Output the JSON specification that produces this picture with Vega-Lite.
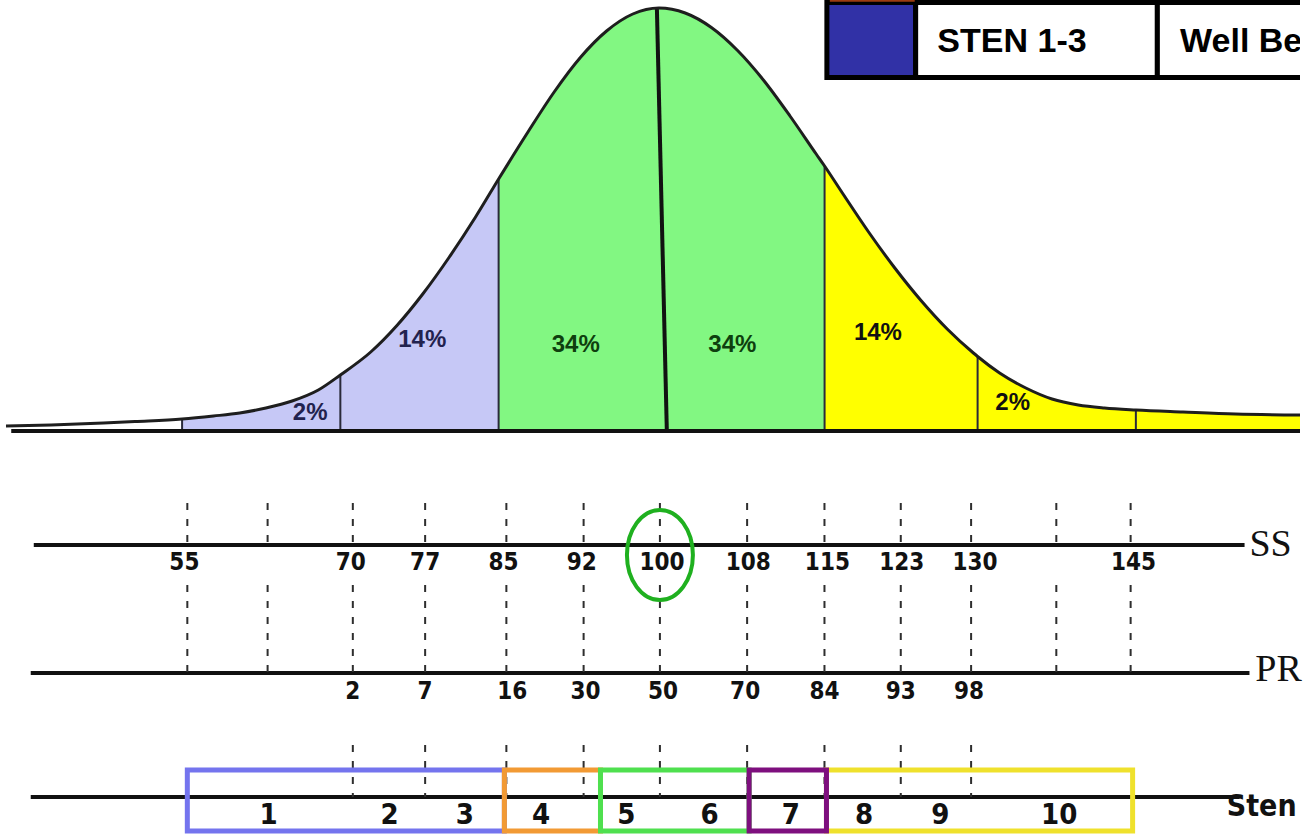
{
  "$schema": "https://vega.github.io/schema/vega-lite/v6.json",
  "width": 1306,
  "height": 836,
  "padding": 0,
  "autosize": {"type": "fit", "contains": "padding"},
  "background": "white",
  "config": {"view": {"stroke": null}},
  "datasets": {
    "curve": [
      {"x": 37.7, "h": 5}, {"x": 42, "h": 6}, {"x": 47, "h": 8}, {"x": 50, "h": 9.5},
      {"x": 54.5, "h": 12}, {"x": 57.5, "h": 15}, {"x": 60, "h": 18}, {"x": 62.5, "h": 23},
      {"x": 65, "h": 30}, {"x": 67.5, "h": 41}, {"x": 69.6, "h": 56}, {"x": 72.5, "h": 79},
      {"x": 75, "h": 105.5}, {"x": 77.5, "h": 137.5}, {"x": 80, "h": 174}, {"x": 82.5, "h": 214},
      {"x": 84.7, "h": 252}, {"x": 87.5, "h": 299}, {"x": 90, "h": 339}, {"x": 92.5, "h": 373.5},
      {"x": 95, "h": 400}, {"x": 97.5, "h": 417}, {"x": 100, "h": 423}, {"x": 102.5, "h": 418},
      {"x": 105, "h": 403.5}, {"x": 107.5, "h": 380.5}, {"x": 110, "h": 350.5}, {"x": 112.5, "h": 315},
      {"x": 115, "h": 277}, {"x": 115.8, "h": 265}, {"x": 117.5, "h": 238}, {"x": 120, "h": 199},
      {"x": 122.5, "h": 163}, {"x": 125, "h": 130.5}, {"x": 127.5, "h": 102}, {"x": 130, "h": 78},
      {"x": 130.4, "h": 74.5}, {"x": 132.5, "h": 58}, {"x": 135, "h": 43}, {"x": 137.5, "h": 32},
      {"x": 140, "h": 26}, {"x": 142.5, "h": 23}, {"x": 145.5, "h": 21}, {"x": 150, "h": 19},
      {"x": 155, "h": 17}, {"x": 161.16, "h": 16}
    ],
    "bounds": [
      {"x": 54.5, "h": 12}, {"x": 69.6, "h": 56}, {"x": 84.7, "h": 252},
      {"x": 115.8, "h": 265}, {"x": 130.4, "h": 74.5}, {"x": 145.5, "h": 21}
    ],
    "curvelabels": [
      {"x": 66.72, "y": 18, "label": "2%", "zone": "lav"},
      {"x": 77.41, "y": 91, "label": "14%", "zone": "lav"},
      {"x": 92.06, "y": 86, "label": "34%", "zone": "green"},
      {"x": 107.0, "y": 86, "label": "34%", "zone": "green"},
      {"x": 120.89, "y": 98, "label": "14%", "zone": "yellow"},
      {"x": 133.75, "y": 28, "label": "2%", "zone": "yellow"}
    ],
    "legendcells": [
      {"x": 116.02, "x2": 124.49, "y": 428.5, "y2": 353.5, "cell": "swatch"},
      {"x": 124.49, "x2": 147.55, "y": 428.5, "y2": 353.5, "cell": "text"},
      {"x": 147.55, "x2": 163.5, "y": 428.5, "y2": 353.5, "cell": "text"}
    ],
    "legendtext": [
      {"x": 126.56, "y": 389, "label": "STEN 1-3"},
      {"x": 149.72, "y": 389, "label": "Well Below Average"}
    ],
    "rows": [
      {"x": 40.35, "x2": 155.87, "y": -114, "row": "SS"},
      {"x": 40.06, "x2": 156.34, "y": -242, "row": "PR"},
      {"x": 40.06, "x2": 155.4, "y": -366, "row": "Sten"}
    ],
    "ticks": [
      {"x": 55.0, "y": -72, "y2": -114}, {"x": 62.66, "y": -72, "y2": -114},
      {"x": 70.79, "y": -72, "y2": -114}, {"x": 77.69, "y": -72, "y2": -114},
      {"x": 85.44, "y": -72, "y2": -114}, {"x": 92.81, "y": -72, "y2": -114},
      {"x": 100.09, "y": -72, "y2": -114}, {"x": 108.41, "y": -72, "y2": -114},
      {"x": 115.79, "y": -72, "y2": -114}, {"x": 123.07, "y": -72, "y2": -114},
      {"x": 129.78, "y": -72, "y2": -114}, {"x": 137.91, "y": -72, "y2": -114},
      {"x": 145.0, "y": -72, "y2": -114},
      {"x": 55.0, "y": -154, "y2": -242}, {"x": 62.66, "y": -154, "y2": -242},
      {"x": 70.79, "y": -154, "y2": -242}, {"x": 77.69, "y": -154, "y2": -242},
      {"x": 85.44, "y": -154, "y2": -242}, {"x": 92.81, "y": -154, "y2": -242},
      {"x": 100.09, "y": -154, "y2": -242}, {"x": 108.41, "y": -154, "y2": -242},
      {"x": 115.79, "y": -154, "y2": -242}, {"x": 123.07, "y": -154, "y2": -242},
      {"x": 129.78, "y": -154, "y2": -242}, {"x": 137.91, "y": -154, "y2": -242},
      {"x": 145.0, "y": -154, "y2": -242},
      {"x": 70.79, "y": -314, "y2": -366}, {"x": 77.69, "y": -314, "y2": -366},
      {"x": 85.44, "y": -314, "y2": -366}, {"x": 92.81, "y": -314, "y2": -366},
      {"x": 100.09, "y": -314, "y2": -366}, {"x": 108.41, "y": -314, "y2": -366},
      {"x": 115.79, "y": -314, "y2": -366}, {"x": 123.07, "y": -314, "y2": -366},
      {"x": 129.78, "y": -314, "y2": -366}
    ],
    "sslabels": [
      {"x": 54.72, "y": -132, "label": "55"}, {"x": 70.6, "y": -132, "label": "70"},
      {"x": 77.69, "y": -132, "label": "77"}, {"x": 85.16, "y": -132, "label": "85"},
      {"x": 92.63, "y": -132, "label": "92"}, {"x": 100.28, "y": -132, "label": "100"},
      {"x": 108.51, "y": -132, "label": "108"}, {"x": 116.07, "y": -132, "label": "115"},
      {"x": 123.16, "y": -132, "label": "123"}, {"x": 130.15, "y": -132, "label": "130"},
      {"x": 145.28, "y": -132, "label": "145"}
    ],
    "prlabels": [
      {"x": 70.79, "y": -261, "label": "2"}, {"x": 77.69, "y": -261, "label": "7"},
      {"x": 86.01, "y": -261, "label": "16"}, {"x": 93.0, "y": -261, "label": "30"},
      {"x": 100.38, "y": -261, "label": "50"}, {"x": 108.22, "y": -261, "label": "70"},
      {"x": 115.79, "y": -261, "label": "84"}, {"x": 123.07, "y": -261, "label": "93"},
      {"x": 129.59, "y": -261, "label": "98"}
    ],
    "stenboxes": [
      {"x": 55.0, "x2": 85.25, "y": -339, "y2": -400, "band": "1-3"},
      {"x": 85.25, "x2": 94.42, "y": -339, "y2": -400, "band": "4"},
      {"x": 94.42, "x2": 108.6, "y": -339, "y2": -400, "band": "5-6"},
      {"x": 115.98, "x2": 145.19, "y": -339, "y2": -400, "band": "8-10"},
      {"x": 108.6, "x2": 115.98, "y": -339, "y2": -400, "band": "7"}
    ],
    "stennums": [
      {"x": 62.75, "y": -384, "label": "1"}, {"x": 74.29, "y": -384, "label": "2"},
      {"x": 81.47, "y": -384, "label": "3"}, {"x": 88.75, "y": -384, "label": "4"},
      {"x": 96.88, "y": -384, "label": "5"}, {"x": 104.82, "y": -384, "label": "6"},
      {"x": 112.57, "y": -384, "label": "7"}, {"x": 119.57, "y": -384, "label": "8"},
      {"x": 126.85, "y": -384, "label": "9"}, {"x": 138.19, "y": -384, "label": "10"}
    ]
  },
  "encoding": {
    "x": {"field": "x", "type": "quantitative", "axis": null, "scale": {"domain": [37.7, 161.16], "nice": false, "zero": false}},
    "y": {"field": "y", "type": "quantitative", "axis": null, "scale": {"domain": [-405, 431], "nice": false, "zero": false}}
  },
  "resolve": {"scale": {"color": "independent", "stroke": "independent", "fill": "independent"}},
  "layer": [
    {
      "data": {"name": "curve"},
      "transform": [{"filter": {"field": "x", "range": [54.5, 84.7]}}],
      "mark": {"type": "area", "color": "#c6c8f6", "interpolate": "monotone"},
      "encoding": {
        "y": {"field": "h", "type": "quantitative", "axis": null, "scale": {"domain": [-405, 431], "nice": false, "zero": false}},
        "y2": {"datum": 0}
      }
    },
    {
      "data": {"name": "curve"},
      "transform": [{"filter": {"field": "x", "range": [84.7, 115.8]}}],
      "mark": {"type": "area", "color": "#82f782", "interpolate": "monotone"},
      "encoding": {
        "y": {"field": "h", "type": "quantitative", "axis": null, "scale": {"domain": [-405, 431], "nice": false, "zero": false}},
        "y2": {"datum": 0}
      }
    },
    {
      "data": {"name": "curve"},
      "transform": [{"filter": {"field": "x", "range": [115.8, 161.16]}}],
      "mark": {"type": "area", "color": "#ffff00", "interpolate": "monotone"},
      "encoding": {
        "y": {"field": "h", "type": "quantitative", "axis": null, "scale": {"domain": [-405, 431], "nice": false, "zero": false}},
        "y2": {"datum": 0}
      }
    },
    {
      "data": {"name": "bounds"},
      "mark": {"type": "rule", "color": "#2a2a3a", "strokeWidth": 2},
      "encoding": {
        "y": {"field": "h", "type": "quantitative", "axis": null, "scale": {"domain": [-405, 431], "nice": false, "zero": false}},
        "y2": {"datum": 0}
      }
    },
    {
      "data": {"values": [{"x": 99.8, "y": 423, "x2": 100.75, "y2": 0}]},
      "mark": {"type": "rule", "color": "#111111", "strokeWidth": 4},
      "encoding": {"x2": {"field": "x2"}, "y2": {"field": "y2"}}
    },
    {
      "data": {"name": "curve"},
      "mark": {"type": "line", "color": "#1e1e1e", "strokeWidth": 3, "interpolate": "monotone"},
      "encoding": {
        "y": {"field": "h", "type": "quantitative", "axis": null, "scale": {"domain": [-405, 431], "nice": false, "zero": false}}
      }
    },
    {
      "data": {"values": [{"x": 38.2, "x2": 161.16, "y": 0}]},
      "mark": {"type": "rule", "color": "#111111", "strokeWidth": 4},
      "encoding": {"x2": {"field": "x2"}}
    },
    {
      "data": {"name": "curvelabels"},
      "mark": {"type": "text", "font": "Liberation Sans", "fontSize": 24, "fontWeight": "bold", "align": "center", "baseline": "middle"},
      "encoding": {
        "text": {"field": "label"},
        "color": {"field": "zone", "type": "nominal", "legend": null, "scale": {"domain": ["lav", "green", "yellow"], "range": ["#22224e", "#0e3f0e", "#111111"]}}
      }
    },
    {
      "data": {"name": "legendcells"},
      "mark": {"type": "rect", "stroke": "#000000", "strokeWidth": 5, "clip": true},
      "encoding": {
        "x2": {"field": "x2"}, "y2": {"field": "y2"},
        "fill": {"field": "cell", "type": "nominal", "legend": null, "scale": {"domain": ["swatch", "text"], "range": ["#3131a6", "#ffffff"]}}
      }
    },
    {
      "data": {"values": [{"x": 116.3, "x2": 124.4, "y": 431, "y2": 429.3}]},
      "mark": {"type": "rect", "color": "#9c3c10"},
      "encoding": {"x2": {"field": "x2"}, "y2": {"field": "y2"}}
    },
    {
      "data": {"name": "legendtext"},
      "mark": {"type": "text", "font": "Liberation Sans", "fontSize": 34, "fontWeight": "bold", "align": "left", "baseline": "middle", "color": "#000000", "clip": true},
      "encoding": {"text": {"field": "label"}}
    },
    {
      "data": {"name": "rows"},
      "mark": {"type": "rule", "color": "#111111", "strokeWidth": 4},
      "encoding": {"x2": {"field": "x2"}}
    },
    {
      "data": {"name": "ticks"},
      "mark": {"type": "rule", "color": "#2e2e2e", "strokeWidth": 2, "strokeDash": [7, 9]},
      "encoding": {"y2": {"field": "y2"}}
    },
    {
      "data": {"name": "sslabels"},
      "mark": {"type": "text", "font": "DejaVu Sans Condensed, Liberation Sans Narrow, Liberation Sans", "fontSize": 24, "fontWeight": "bold", "align": "center", "baseline": "middle", "color": "#111111"},
      "encoding": {"text": {"field": "label"}}
    },
    {
      "data": {"name": "prlabels"},
      "mark": {"type": "text", "font": "DejaVu Sans Condensed, Liberation Sans Narrow, Liberation Sans", "fontSize": 24, "fontWeight": "bold", "align": "center", "baseline": "middle", "color": "#111111"},
      "encoding": {"text": {"field": "label"}}
    },
    {
      "data": {"values": [{"x": 100.09, "y": -124}]},
      "mark": {"type": "point", "shape": "M -0.733 0 A 0.733 1 0 1 0 0.733 0 A 0.733 1 0 1 0 -0.733 0 Z", "size": 8100, "filled": false, "stroke": "#1fb01f", "strokeWidth": 4, "opacity": 1}
    },
    {
      "data": {"name": "stenboxes"},
      "mark": {"type": "rect", "fillOpacity": 0, "strokeWidth": 5},
      "encoding": {
        "x2": {"field": "x2"}, "y2": {"field": "y2"},
        "stroke": {"field": "band", "type": "nominal", "legend": null, "scale": {"domain": ["1-3", "4", "5-6", "7", "8-10"], "range": ["#7474ee", "#f29a34", "#4fe04f", "#7e0f7e", "#efe12c"]}}
      }
    },
    {
      "data": {"name": "stennums"},
      "mark": {"type": "text", "font": "DejaVu Sans Condensed, Liberation Sans Narrow, Liberation Sans", "fontSize": 29, "fontWeight": "bold", "align": "center", "baseline": "middle", "color": "#111111"},
      "encoding": {"text": {"field": "label"}}
    },
    {
      "data": {"values": [{"x": 156.34, "y": -114, "label": "SS"}, {"x": 156.9, "y": -239, "label": "PR"}]},
      "mark": {"type": "text", "font": "Liberation Serif", "fontSize": 38, "align": "left", "baseline": "middle", "color": "#111111"},
      "encoding": {"text": {"field": "label"}}
    },
    {
      "data": {"values": [{"x": 154.17, "y": -376, "label": "Sten"}]},
      "mark": {"type": "text", "font": "DejaVu Sans Condensed, Liberation Sans Narrow, Liberation Sans", "fontSize": 30, "fontWeight": "bold", "align": "left", "baseline": "middle", "color": "#111111"},
      "encoding": {"text": {"field": "label"}}
    }
  ]
}
